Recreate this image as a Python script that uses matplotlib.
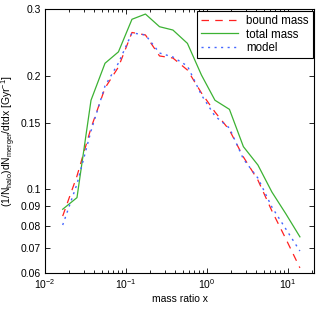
import matplotlib
matplotlib.use("Agg")
import matplotlib.pyplot as plt
from matplotlib.ticker import FixedLocator, FixedFormatter, LogLocator, NullFormatter

plt.rcParams['font.family'] = ['Liberation Sans', 'DejaVu Sans']
plt.rcParams['mathtext.fontset'] = 'custom'
plt.rcParams['mathtext.rm'] = 'Liberation Sans'
plt.rcParams['mathtext.it'] = 'Liberation Sans'

x_ratio = [0.01654, 0.02483, 0.0370, 0.0551, 0.0807, 0.1186, 0.174, 0.2596, 0.380,
           0.574, 0.855, 1.256, 1.896, 2.82, 4.26, 6.34, 9.45, 14.06]
bound_mass = [0.0849, 0.1084, 0.1452, 0.1853, 0.2106, 0.2600, 0.2561, 0.2253, 0.2225,
              0.2068, 0.1798, 0.1601, 0.1434, 0.1217, 0.1057, 0.0876, 0.0738, 0.0619]
total_mass = [0.0885, 0.0950, 0.1720, 0.2155, 0.2310, 0.2818, 0.2909, 0.2693, 0.2639,
              0.2433, 0.2006, 0.1720, 0.1627, 0.1296, 0.1159, 0.0983, 0.0860, 0.0748]
model = [0.0804, 0.1032, 0.1426, 0.1876, 0.2158, 0.2593, 0.2561, 0.2294, 0.2239,
         0.2119, 0.1776, 0.1562, 0.1452, 0.1202, 0.1070, 0.0897, 0.0784, 0.0686]

y_ticks = [0.06, 0.07, 0.08, 0.09, 0.1, 0.15, 0.2, 0.3]
y_labels = ['0.06', '0.07', '0.08', '0.09', '0.1', '0.15', '0.2', '0.3']
x_ticks = [0.01, 0.1, 1, 10]
x_labels = [r'$10^{-2}$', r'$10^{-1}$', r'$10^{0}$', r'$10^{1}$']

fig = plt.figure(figsize=(3.16, 3.17), dpi=100)
ax = fig.add_axes([0.1424, 0.1388, 0.8513, 0.8328])

ax.plot(x_ratio, bound_mass, color='#ff2020', lw=0.9, ls=(0, (6, 5)), label='bound mass')
ax.plot(x_ratio, total_mass, color='#3cb233', lw=0.9, ls='-', label='total mass')
ax.plot(x_ratio, model, color='#4466ff', lw=1.0, ls=(0, (1.5, 3.2)), label='model')

ax.set_xscale('log')
ax.set_yscale('log')
ax.set_xlim(0.01, 21)
ax.set_ylim(0.06, 0.3)

ax.yaxis.set_major_locator(FixedLocator(y_ticks))
ax.yaxis.set_major_formatter(FixedFormatter(y_labels))
ax.yaxis.set_minor_locator(FixedLocator([]))
ax.yaxis.set_minor_formatter(NullFormatter())
ax.xaxis.set_major_locator(FixedLocator(x_ticks))
ax.xaxis.set_major_formatter(FixedFormatter(x_labels))
ax.xaxis.set_minor_locator(LogLocator(base=10, subs=[2, 3, 4, 5, 6, 7, 8, 9]))
ax.xaxis.set_minor_formatter(NullFormatter())

ax.tick_params(which='both', direction='in', top=True, right=True, labelsize=7.5, width=0.6)
ax.tick_params(which='major', length=3.5, pad=3)
ax.tick_params(which='minor', length=2)
for s in ax.spines.values():
    s.set_linewidth(0.8)

ax.set_xlabel('mass ratio x', fontsize=7.5, labelpad=2)
ax.set_ylabel(r'(1/N$_{\rm halo}$)dN$_{\rm merger}$/dtdx [Gyr$^{-1}$]', fontsize=7.5, labelpad=2)

leg = ax.legend(loc='upper right', bbox_to_anchor=(0.995, 0.992), fontsize=8.3, fancybox=False,
                edgecolor='black', framealpha=1, handlelength=3.2, borderpad=0.35,
                labelspacing=0.12, handletextpad=0.7, borderaxespad=0.0)
leg.get_frame().set_linewidth(0.8)

fig.savefig('out.png', dpi=100)
